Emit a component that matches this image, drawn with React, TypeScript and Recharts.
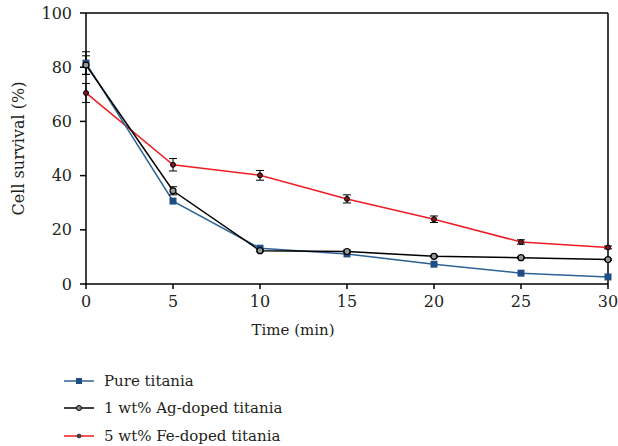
import React from 'react';
import {
  LineChart,
  Line,
  XAxis,
  YAxis,
  ErrorBar,
  ReferenceLine,
} from 'recharts';

// 时间点 (min)
const times = [0, 5, 10, 15, 20, 25, 30];

// 各样品的细胞存活率 (%)
const pureTitania = [81.5, 30.6, 13.2, 11.1, 7.3, 4.0, 2.6];
const agDoped = [80.8, 34.4, 12.3, 12.0, 10.2, 9.7, 9.0];
const feDoped = [70.5, 44.0, 40.1, 31.4, 23.9, 15.5, 13.5];

// 误差
const pureErr = [4.2, 0, 0, 0, 0, 0, 0];
const agErr = [3.4, 1.5, 0.4, 0.5, 0.3, 0.3, 0.3];
const feErr = [3.5, 2.3, 1.8, 1.5, 1.2, 0.8, 0.5];

const xTicks = [0, 5, 10, 15, 20, 25, 30];
const yTicks = [0, 20, 40, 60, 80, 100];

const FONT = '"DejaVu Serif", serif';
const TEXT = '#231f20';
const BLUE = '#1f4e85';
const BLUE_LINE = '#2e6296';
const RED = '#ee1c25';

const chartData = times.map((t, i) => ({
  time: t,
  pure: pureTitania[i],
  ag: agDoped[i],
  fe: feDoped[i],
  pureErr: pureErr[i],
  agErr: agErr[i],
  feErr: feErr[i],
}));

const SquareDot = (props: any) => {
  const { cx, cy } = props;
  if (cx == null || cy == null) return null;
  return <rect x={cx - 3.5} y={cy - 3.5} width={7} height={7} fill={BLUE} />;
};

const legendItems = [
  { label: 'Pure titania', color: BLUE_LINE, kind: 'square' },
  { label: '1 wt% Ag-doped titania', color: '#000', kind: 'open' },
  { label: '5 wt% Fe-doped titania', color: RED, kind: 'red' },
];

function LegendMarker({ color, kind }: { color: string; kind: string }) {
  return (
    <svg width={30} height={12} style={{ display: 'block' }}>
      <line x1={0} y1={6} x2={30} y2={6} stroke={color} strokeWidth={1.5} />
      {kind === 'square' && <rect x={12} y={3} width={6} height={6} fill={BLUE} />}
      {kind === 'open' && <circle cx={15} cy={6} r={2.5} fill="#888" stroke="#000" strokeWidth={1} />}
      {kind === 'red' && <circle cx={15} cy={6} r={2} fill="#444" stroke="#000" strokeWidth={0.5} />}
    </svg>
  );
}

export default function App() {
  const axisTick = { fill: TEXT, fontSize: 16, fontFamily: FONT };
  return (
    <div style={{ position: 'absolute', left: 0, top: 0, width: 618, height: 446, background: '#fff' }}>
      <LineChart
        width={618}
        height={446}
        data={chartData}
        margin={{ top: 13, right: 10, left: 0, bottom: 102 }}
      >
        <XAxis
          dataKey="time"
          type="number"
          domain={[0, 30]}
          ticks={xTicks}
          tick={axisTick}
          tickSize={5}
          tickMargin={7}
          stroke="#000"
          strokeWidth={1.5}
          height={60}
          label={{
            value: 'Time (min)',
            position: 'insideBottom',
            offset: 9,
            dx: -54,
            fill: TEXT,
            fontSize: 15,
            fontFamily: FONT,
          }}
        />
        <YAxis
          type="number"
          domain={[0, 100]}
          ticks={yTicks}
          tick={axisTick}
          tickSize={6}
          tickMargin={8}
          stroke="#000"
          strokeWidth={1.5}
          width={86}
          label={{
            value: 'Cell survival (%)',
            angle: -90,
            position: 'insideLeft',
            offset: 18,
            style: { textAnchor: 'middle' },
            fill: TEXT,
            fontSize: 16,
            fontFamily: FONT,
          }}
        />
        <ReferenceLine y={100} stroke="#000" strokeWidth={1.5} />
        <ReferenceLine x={30} stroke="#000" strokeWidth={1.5} />
        <Line
          dataKey="fe"
          stroke={RED}
          strokeWidth={1.5}
          dot={{ r: 2.5, fill: '#7a1a1a', stroke: '#000', strokeWidth: 1 }}
          isAnimationActive={false}
        >
          <ErrorBar dataKey="feErr" width={4} stroke="#000" strokeWidth={1} />
        </Line>
        <Line
          dataKey="pure"
          stroke={BLUE_LINE}
          strokeWidth={1.5}
          dot={<SquareDot />}
          isAnimationActive={false}
        >
          <ErrorBar dataKey="pureErr" width={4} stroke="#000" strokeWidth={1} />
        </Line>
        <Line
          dataKey="ag"
          stroke="#000"
          strokeWidth={1.5}
          dot={{ r: 3, fill: '#999', stroke: '#000', strokeWidth: 1.2 }}
          isAnimationActive={false}
        >
          <ErrorBar dataKey="agErr" width={4} stroke="#000" strokeWidth={1} />
        </Line>
      </LineChart>
      <div style={{ position: 'absolute', left: 64, top: 367, fontFamily: FONT, fontSize: 15, color: TEXT }}>
        {legendItems.map((item) => (
          <div key={item.label} style={{ display: 'flex', alignItems: 'center', height: 27.5 }}>
            <LegendMarker color={item.color} kind={item.kind} />
            <span style={{ marginLeft: 10 }}>{item.label}</span>
          </div>
        ))}
      </div>
    </div>
  );
}
